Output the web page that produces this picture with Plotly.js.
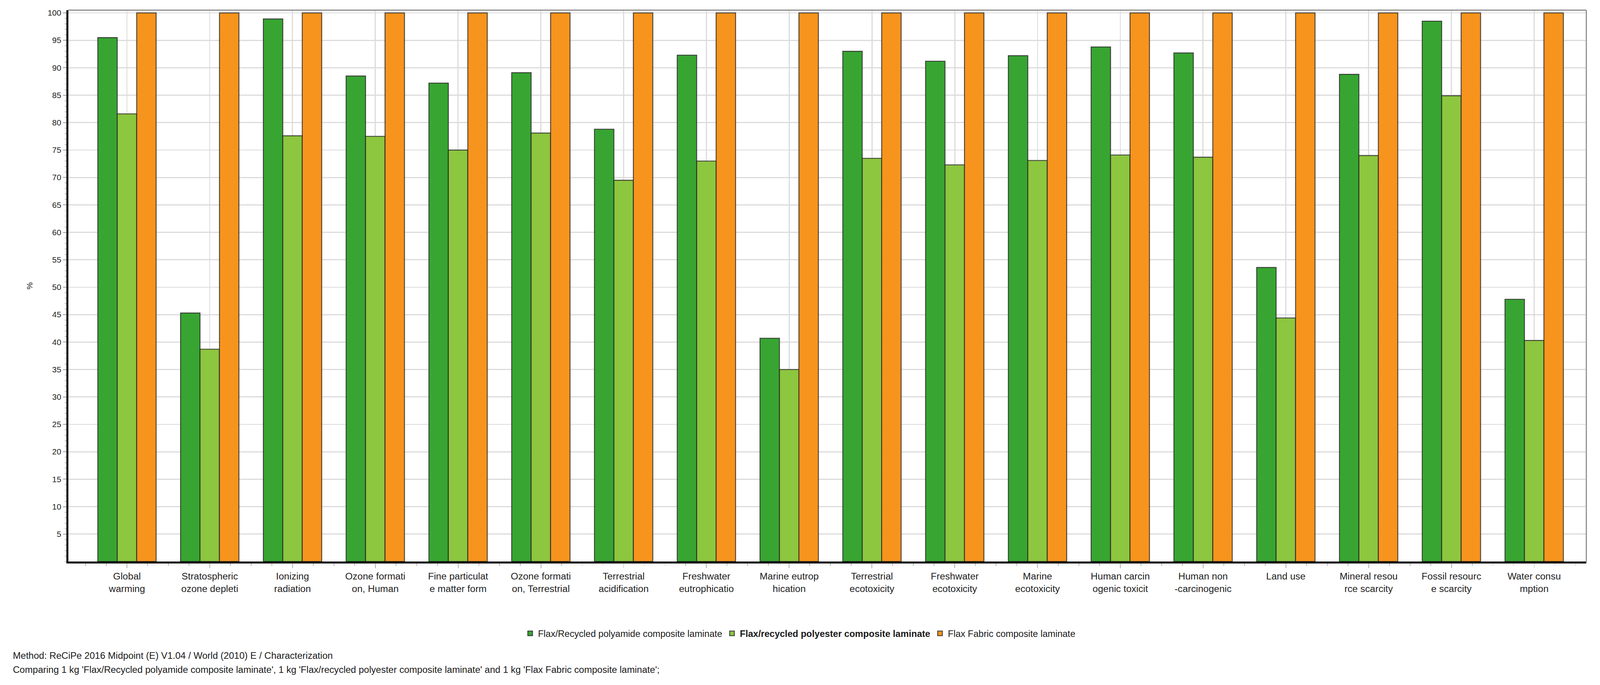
<!DOCTYPE html>
<html>
<head>
<meta charset="utf-8">
<script src="https://cdn.plot.ly/plotly-3.0.1.min.js"></script>
<style>html,body{margin:0;padding:0;background:#fff;overflow:hidden;}#chart{position:absolute;left:0;top:0;}</style>
</head>
<body>
<div id="chart"></div>
<script>
// ---- Data ----
const categories = [
  "Global<br>warming",
  "Stratospheric<br>ozone depleti",
  "Ionizing<br>radiation",
  "Ozone formati<br>on, Human",
  "Fine particulat<br>e matter form",
  "Ozone formati<br>on, Terrestrial",
  "Terrestrial<br>acidification",
  "Freshwater<br>eutrophicatio",
  "Marine eutrop<br>hication",
  "Terrestrial<br>ecotoxicity",
  "Freshwater<br>ecotoxicity",
  "Marine<br>ecotoxicity",
  "Human carcin<br>ogenic toxicit",
  "Human non<br>-carcinogenic",
  "Land use",
  "Mineral resou<br>rce scarcity",
  "Fossil resourc<br>e scarcity",
  "Water consu<br>mption"
];
const seriesNames = [
  "Flax/Recycled polyamide composite laminate",
  "<b>Flax/recycled polyester composite laminate</b>",
  "Flax Fabric composite laminate"
];
const polyamide = [95.5, 45.3, 98.9, 88.5, 87.2, 89.1, 78.8, 92.3, 40.7, 93.0, 91.2, 92.2, 93.8, 92.7, 53.6, 88.8, 98.5, 47.8];
const polyester = [81.6, 38.7, 77.6, 77.5, 75.0, 78.1, 69.5, 73.0, 35.0, 73.5, 72.3, 73.1, 74.1, 73.7, 44.4, 74.0, 84.9, 40.3];
const fabric    = [100, 100, 100, 100, 100, 100, 100, 100, 100, 100, 100, 100, 100, 100, 100, 100, 100, 100];
const yTicks = [5,10,15,20,25,30,35,40,45,50,55,60,65,70,75,80,85,90,95,100];
const yTitle = "%";
const footnote1 = "Method: ReCiPe 2016 Midpoint (E) V1.04 / World (2010) E / Characterization";
const footnote2 = "Comparing 1 kg 'Flax/Recycled polyamide composite laminate', 1 kg 'Flax/recycled polyester composite laminate' and 1 kg 'Flax Fabric composite laminate';";

// ---- Styling (designed for a 4342x1753 canvas, scaled to the actual viewport) ----
const FONT = "Liberation Sans, Arial, sans-serif";
const colors = ["#38A532", "#8DC63F", "#F7941D"];
const outline = "rgba(35,35,35,0.8)";
const REF_W = 4342, REF_H = 1753;
const W = window.innerWidth || REF_W;
const H = window.innerHeight || REF_H;
const sx = W / REF_W, sy = H / REF_H, sf = Math.min(sx, sy);
document.getElementById("chart").style.width = W + "px";
document.getElementById("chart").style.height = H + "px";

const M = {l: 186 * sx, r: 37 * sx, t: 26 * sy, b: 316 * sy};
const plotW = W - M.l - M.r, plotH = H - M.t - M.b;
const baseY = REF_H - 316;                 // reference y of the x axis
const toPaperY = yRef => -((yRef - baseY) * sy) / plotH;
const toPaperX = xRef => (xRef * sx - M.l) / plotW;

const xIdx = categories.map((_, i) => i);
const values = [polyamide, polyester, fabric];

const traces = values.map((v, k) => ({
  type: "bar",
  x: xIdx,
  y: v,
  name: seriesNames[k],
  marker: {color: colors[k], line: {color: outline, width: 2.5 * sf}},
  hoverinfo: "skip"
}));

const layout = {
  width: W, height: H,
  margin: M,
  paper_bgcolor: "#fff",
  plot_bgcolor: "#fff",
  font: {family: FONT, color: "#222", size: 22 * sf},
  barmode: "group",
  bargap: 0.295,
  bargroupgap: 0,
  showlegend: true,
  legend: {
    orientation: "h",
    x: toPaperX(REF_W / 2), xanchor: "center",
    y: toPaperY(1621), yanchor: "middle",
    font: {family: FONT, size: 25 * sf, color: "#1a1a1a"},
    traceorder: "normal",
    itemwidth: 30
  },
  xaxis: {
    type: "linear",
    range: [-0.708, 17.63],
    tickvals: xIdx,
    ticktext: categories,
    tickfont: {family: FONT, size: 26 * sf, color: "#222"},
    ticks: "outside",
    ticklen: 12 * sy,
    tickwidth: 2 * sf,
    tickcolor: "#b0b0b0",
    minor: {dtick: 0.25, tick0: 0, ticks: "outside", ticklen: 6 * sy, tickwidth: 2 * sf, tickcolor: "#b0b0b0", showgrid: false},
    showgrid: true,
    gridcolor: "#dcdcdc",
    gridwidth: 3 * sf,
    showline: true,
    linecolor: "#000",
    linewidth: 5 * sf,
    zeroline: false,
    fixedrange: true
  },
  yaxis: {
    range: [0, 100.5],
    tickvals: yTicks,
    tickfont: {family: FONT, size: 22 * sf, color: "#222"},
    ticks: "outside",
    ticklen: 10 * sx,
    tickwidth: 2 * sf,
    tickcolor: "#a0a0a0",
    minor: {dtick: 1, tick0: 0, ticks: "outside", ticklen: 5 * sx, tickwidth: 2 * sf, tickcolor: "#b8b8b8", showgrid: false},
    showgrid: true,
    gridcolor: "#dcdcdc",
    gridwidth: 3 * sf,
    showline: true,
    linecolor: "#000",
    linewidth: 5 * sf,
    zeroline: false,
    title: {text: yTitle, font: {family: FONT, size: 22 * sf, color: "#222"}, standoff: 36 * sx},
    fixedrange: true
  },
  shapes: [
    {type: "line", xref: "paper", yref: "paper", x0: 0, x1: 1, y0: 1, y1: 1, line: {color: "#8a8a8a", width: 3 * sf}},
    {type: "line", xref: "paper", yref: "paper", x0: 1, x1: 1, y0: 0, y1: 1, line: {color: "#8a8a8a", width: 3 * sf}}
  ],
  annotations: [
    {text: footnote1, xref: "paper", yref: "paper", x: toPaperX(33), y: toPaperY(1677),
     xanchor: "left", yanchor: "middle", showarrow: false, font: {family: FONT, size: 25.5 * sf, color: "#1a1a1a"}},
    {text: footnote2, xref: "paper", yref: "paper", x: toPaperX(33), y: toPaperY(1714),
     xanchor: "left", yanchor: "middle", showarrow: false, font: {family: FONT, size: 25.5 * sf, color: "#1a1a1a"}}
  ]
};

Plotly.newPlot("chart", traces, layout, {displayModeBar: false, staticPlot: true});
</script>
</body>
</html>
